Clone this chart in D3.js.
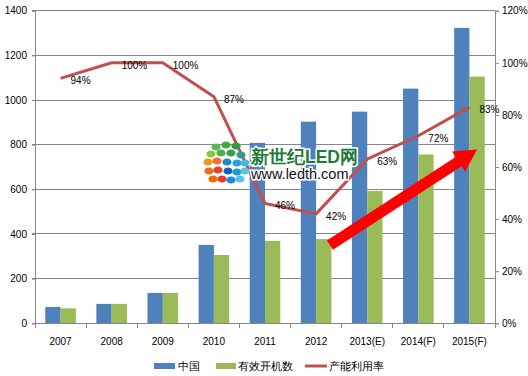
<!DOCTYPE html>
<html><head><meta charset="utf-8">
<script src="https://cdn.jsdelivr.net/npm/d3@7"></script>
<style>
body{margin:0;background:#fff;}
svg{display:block;}
text{font-family:"Liberation Sans",Arial,sans-serif;}
</style></head>
<body>
<svg id="c" width="528" height="376"></svg>
<script>
const categories = ["2007","2008","2009","2010","2011","2012","2013(E)","2014(F)","2015(F)"];
const chinaValues = [73, 87, 136, 351, 808, 903, 948, 1051, 1323];
const activeValues = [67, 87, 136, 306, 369, 377, 593, 756, 1105];
const utilization = [0.94, 1.00, 1.00, 0.87, 0.46, 0.42, 0.63, 0.72, 0.83];
const utilLabels = ["94%","100%","100%","87%","46%","42%","63%","72%","83%"];
const leftTicks = [0,200,400,600,800,1000,1200,1400];
const rightTicks = [0,0.2,0.4,0.6,0.8,1.0,1.2];
const seriesNames = ["中国","有效开机数","产能利用率"];

const svg = d3.select("#c");
const L = 35, R = 495, T = 10.7, B = 323.3;
const x = d3.scaleBand().domain(categories).range([L, R]).padding(0);
const xs = d3.scaleBand().domain([0,1]).range([0, x.bandwidth()]).paddingInner(0).paddingOuter(0.67);
const y = d3.scaleLinear().domain([0,1400]).range([B, T]);
const yr = d3.scaleLinear().domain([0,1.2]).range([B, T]);
const blue = "#4F81BD", green = "#9BBB59", red = "#C0504D", axisCol = "#868686";

// gridlines
svg.append("g").selectAll("line").data(leftTicks.filter(d=>d>0)).join("line")
  .attr("x1", L-3).attr("x2", R).attr("y1", d=>y(d)).attr("y2", d=>y(d))
  .attr("stroke", axisCol).attr("stroke-width", 1).attr("shape-rendering","crispEdges");

// left axis
const gl = svg.append("g").attr("transform", `translate(${L},0)`)
  .call(d3.axisLeft(y).tickValues(leftTicks).tickSize(3).tickPadding(5).tickFormat(d3.format("d")));
gl.select(".domain").attr("stroke", axisCol);
gl.selectAll(".tick line").attr("stroke", axisCol);
gl.selectAll("text").attr("font-size", 10).attr("fill","#000").attr("font-family","Liberation Sans, Arial");

// right axis
const gr = svg.append("g").attr("transform", `translate(${R},0)`)
  .call(d3.axisRight(yr).tickValues(rightTicks).tickSize(4).tickPadding(3).tickFormat(d3.format(".0%")));
gr.select(".domain").attr("stroke", axisCol);
gr.selectAll(".tick line").attr("stroke", axisCol);
gr.selectAll("text").attr("font-size", 10).attr("fill","#000").attr("font-family","Liberation Sans, Arial");

// bars
const bars = svg.append("g");
bars.selectAll(".b1").data(categories).join("rect")
  .attr("x", d=>x(d)+xs(0)).attr("width", xs.bandwidth())
  .attr("y", (d,i)=>y(chinaValues[i])).attr("height", (d,i)=>B-y(chinaValues[i]))
  .attr("fill", blue);
bars.selectAll(".b2").data(categories).join("rect")
  .attr("x", d=>x(d)+xs(1)).attr("width", xs.bandwidth())
  .attr("y", (d,i)=>y(activeValues[i])).attr("height", (d,i)=>B-y(activeValues[i]))
  .attr("fill", green);

// x axis
const gx = svg.append("g").attr("transform", `translate(0,${B})`);
gx.append("line").attr("x1", L).attr("x2", R).attr("stroke", axisCol).attr("shape-rendering","crispEdges");
gx.selectAll(".tk").data(d3.range(categories.length+1)).join("line")
  .attr("x1", i=>L+i*x.step()).attr("x2", i=>L+i*x.step()).attr("y1",0).attr("y2",5)
  .attr("stroke", axisCol).attr("shape-rendering","crispEdges");
gx.selectAll("text").data(categories).join("text")
  .attr("x", d=>x(d)+x.bandwidth()/2).attr("y", 22).attr("text-anchor","middle")
  .attr("font-size", 10).text(d=>d);

// line
const pts = categories.map((c,i)=>[x(c)+x.bandwidth()/2, yr(utilization[i])]);
svg.append("path").attr("d", d3.line()(pts)).attr("fill","none")
  .attr("stroke", red).attr("stroke-width", 3).attr("stroke-linejoin","round");
svg.append("g").selectAll("text").data(pts).join("text")
  .attr("x", d=>d[0]+10).attr("y", d=>d[1]+6).attr("font-size", 10).attr("fill","#000")
  .text((d,i)=>utilLabels[i]);

// watermark
const wm = svg.append("g");
const dotColors = [
  [216,147,"#5cb85c"],[226,145,"#3cab3c"],[236,146,"#2e9e3e"],
  [211,154,"#8cc63f"],[221,153,"#4caf50"],[231,153,"#3aa04a"],[241,155,"#2e9a9e"],
  [208,162,"#f7941d"],[217,161,"#e8702a"],[227,162,"#1e88c8"],[237,163,"#2aa0d8"],[245,163,"#49b7e0"],
  [209,171,"#f26b1d"],[218,170,"#e53e2d"],[228,171,"#1565c0"],[237,172,"#2196d3"],[245,171,"#5bc0e8"],
  [213,179,"#ef6c00"],[222,179,"#e53935"],[231,180,"#1e88e5"],[240,179,"#4fc3f7"]
];
wm.selectAll("ellipse").data(dotColors).join("ellipse")
  .attr("cx", d=>d[0]).attr("cy", d=>d[1]).attr("rx", 4.6).attr("ry", 3.6).attr("fill", d=>d[2]);
wm.append("text").attr("x", 251).attr("y", 163).text("新世纪LED网")
  .attr("font-family","Noto Sans CJK SC, sans-serif").attr("font-weight","bold").attr("font-size", 17.5)
  .attr("fill","#1f7a3a").attr("stroke","#fff").attr("stroke-width",3).attr("paint-order","stroke");
wm.append("text").attr("x", 251).attr("y", 179).text("www.ledth.com")
  .attr("font-family","DejaVu Sans, sans-serif").attr("font-size", 14.5)
  .attr("fill","#111").attr("stroke","#fff").attr("stroke-width",3).attr("paint-order","stroke");

// red arrow annotation
const tail = [x("2012")+x.bandwidth()*0.77, yr(0.30)];
const head = [x("2015(F)")+x.bandwidth()*0.65, yr(0.667)];
const dx = head[0]-tail[0], dy = head[1]-tail[1], len = Math.hypot(dx,dy);
const ux = dx/len, uy = dy/len, nx = -uy, ny = ux;
const bw = 5.5, hw = 12, hl = 22;
const hb = [head[0]-ux*hl, head[1]-uy*hl];
const poly = [
  [tail[0]+nx*bw, tail[1]+ny*bw],[hb[0]+nx*bw, hb[1]+ny*bw],[hb[0]+nx*hw, hb[1]+ny*hw],
  head,[hb[0]-nx*hw, hb[1]-ny*hw],[hb[0]-nx*bw, hb[1]-ny*bw],[tail[0]-nx*bw, tail[1]-ny*bw]
];
svg.append("polygon").attr("points", poly.map(p=>p.join(",")).join(" ")).attr("fill","#ff0000");

// legend
const lg = svg.append("g").attr("transform","translate(0,366)");
lg.append("rect").attr("x",154).attr("y",-3).attr("width",21).attr("height",6).attr("fill",blue);
lg.append("rect").attr("x",216).attr("y",-3).attr("width",20).attr("height",6).attr("fill",green);
lg.append("line").attr("x1",305).attr("x2",327).attr("stroke",red).attr("stroke-width",3);
const lx = [178, 238, 329];
lg.selectAll("text").data(seriesNames).join("text")
  .attr("x",(d,i)=>lx[i]).attr("y",4).attr("font-size",10.5)
  .attr("font-family","Noto Sans CJK SC, sans-serif").text(d=>d);
</script>
</body></html>
